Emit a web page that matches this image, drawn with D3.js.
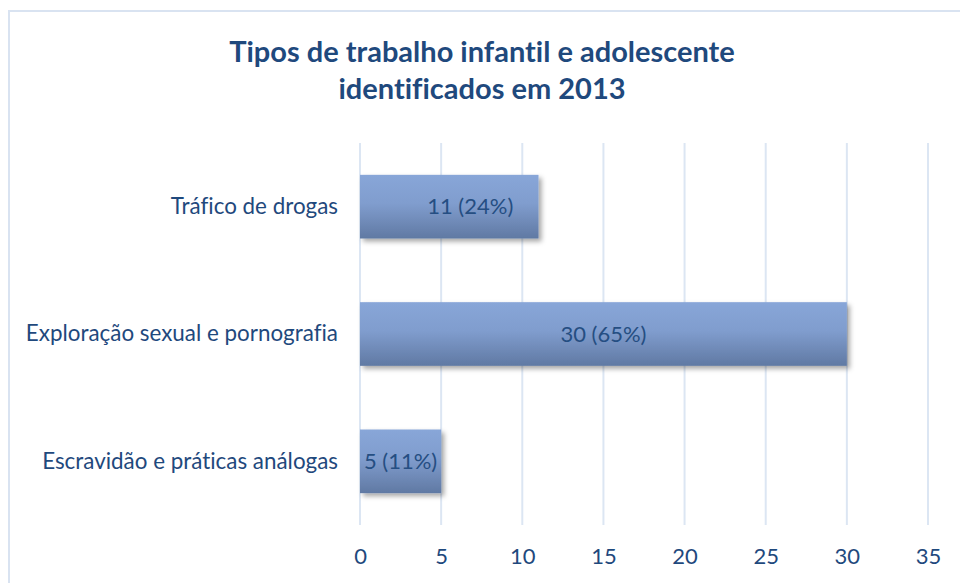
<!DOCTYPE html>
<html>
<head>
<meta charset="utf-8">
<script src="https://cdn.jsdelivr.net/npm/d3@7"></script>
<style>
  body { margin: 0; background: #fff; }
  svg { display: block; font-family: Lato, "Open Sans", sans-serif; font-variant-ligatures: none; }
</style>
</head>
<body>
<div id="chart"></div>
<script>
// data
const categories = ["Tráfico de drogas", "Exploração sexual e pornografia", "Escravidão e práticas análogas"];
const values = [11, 30, 5];
const labels = ["11 (24%)", "30 (65%)", "5 (11%)"];
const ticks = [0, 5, 10, 15, 20, 25, 30, 35];
const titleLines = ["Tipos de trabalho infantil e adolescente", "identificados em 2013"];

const width = 960, height = 583;
const margin = {top: 143, right: 32, bottom: 58, left: 360};
const textColor = "#1F497D";

const svg = d3.select("#chart").append("svg").attr("width", width).attr("height", height);

// gradient + shadow for bars
const defs = svg.append("defs");
const grad = defs.append("linearGradient").attr("id", "barGrad").attr("x1", 0).attr("y1", 0).attr("x2", 0).attr("y2", 1);
grad.append("stop").attr("offset", "0%").attr("stop-color", "#88A6D8");
grad.append("stop").attr("offset", "45%").attr("stop-color", "#809DCE");
grad.append("stop").attr("offset", "100%").attr("stop-color", "#6079A3");
const shadow = defs.append("filter").attr("id", "shadow").attr("x", "-5%").attr("y", "-10%").attr("width", "115%").attr("height", "140%");
shadow.append("feDropShadow").attr("dx", 3).attr("dy", 3).attr("stdDeviation", 2.5)
  .attr("flood-color", "#000").attr("flood-opacity", 0.35);

// chart frame (continues past the right/bottom edge in the reference)
svg.append("rect").attr("x", 9).attr("y", 11).attr("width", 1000).attr("height", 1000)
  .attr("fill", "none").attr("stroke", "#D9E3F1").attr("stroke-width", 2);

// title
svg.append("g").selectAll("text").data(titleLines).enter().append("text")
  .attr("x", 482).attr("y", (d, i) => 62 + i * 37)
  .attr("text-anchor", "middle").attr("font-size", "29px").attr("font-weight", "bold")
  .attr("fill", textColor).text(d => d);

const x = d3.scaleLinear().domain([0, 35]).range([margin.left, width - margin.right]);
const y = d3.scaleBand().domain(categories).range([margin.top, height - margin.bottom])
  .paddingInner(0.5).paddingOuter(0.25);

// vertical gridlines
svg.append("g").selectAll("line").data(ticks).enter().append("line")
  .attr("x1", d => x(d)).attr("x2", d => x(d))
  .attr("y1", margin.top).attr("y2", height - margin.bottom)
  .attr("stroke", "#DCE6F3").attr("stroke-width", 2);

// x axis labels
const xAxis = svg.append("g").attr("transform", `translate(0,${height - margin.bottom})`)
  .call(d3.axisBottom(x).tickValues(ticks).tickSize(0).tickPadding(23));
xAxis.select(".domain").remove();
xAxis.selectAll("text").attr("font-size", "22px").attr("fill", textColor).attr("font-family", "Lato, sans-serif");

// y axis labels
const yAxis = svg.append("g").attr("transform", `translate(${margin.left},0)`)
  .call(d3.axisLeft(y).tickSize(0).tickPadding(22));
yAxis.select(".domain").remove();
yAxis.selectAll("text").attr("font-size", "22.4px").attr("fill", textColor).attr("font-family", "Lato, sans-serif");

// bars
svg.append("g").selectAll("rect").data(categories).enter().append("rect")
  .attr("x", x(0)).attr("y", d => y(d))
  .attr("width", (d, i) => x(values[i]) - x(0)).attr("height", y.bandwidth())
  .attr("fill", "url(#barGrad)").attr("filter", "url(#shadow)");

// value labels (first one sits a bit right of centre in the reference)
const labelShift = [21, 0, 0];
svg.append("g").selectAll("text").data(categories).enter().append("text")
  .attr("x", (d, i) => (x(0) + x(values[i])) / 2 + labelShift[i])
  .attr("y", d => y(d) + y.bandwidth() / 2)
  .attr("dy", "0.35em").attr("text-anchor", "middle")
  .attr("font-size", "22px").attr("fill", "#254E82")
  .text((d, i) => labels[i]);
</script>
</body>
</html>
